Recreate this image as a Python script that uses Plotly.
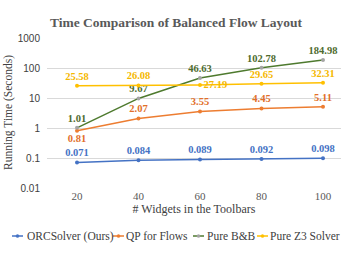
import plotly.graph_objects as go

widgets = ["20", "40", "60", "80", "100"]
orc = [0.071, 0.084, 0.089, 0.092, 0.098]
qp = [0.81, 2.07, 3.55, 4.45, 5.11]
bnb = [1.01, 9.67, 46.63, 102.78, 184.98]
z3 = [25.58, 26.08, 27.19, 29.65, 32.31]

series_names = ["ORCSolver (Ours)", "QP for Flows", "Pure B&B", "Pure Z3 Solver"]
series_values = [orc, qp, bnb, z3]
series_colors = ["#4472C4", "#ED7D31", "#4E7A2E", "#FFC000"]
label_colors = ["#4472C4", "#E2702A", "#4E6B2E", "#F5B800"]
label_fmt = ["{:.3f}", "{:.2f}", "{:.2f}", "{:.2f}"]
positions = [
    ["top center"] * 5,
    ["bottom center", "top center", "top center", "top center", "top center"],
    ["top center"] * 5,
    ["top center", "top center", "middle right", "top center", "top center"],
]
marker_colors = ["#4472C4", "#ED7D31", "#A5A5A5", "#FFC000"]

xs = list(range(len(widgets)))
fig = go.Figure()
for name, vals, col, lc, fmt, pos, mc in zip(series_names, series_values, series_colors,
                                             label_colors, label_fmt, positions, marker_colors):
    fig.add_trace(go.Scatter(
        x=xs, y=vals, name=name, mode="lines+markers+text",
        line=dict(color=col, width=1.5),
        marker=dict(color=mc, size=4),
        text=[fmt.format(v) for v in vals],
        textposition=pos,
        textfont=dict(family="Liberation Serif", size=10.5, color=lc, weight="bold"),
        showlegend=False, cliponaxis=False, hoverinfo="skip",
    ))

W, H = 343, 258
L, R, T, B = 47, 2, 38, 70
pw = W - L - R
ph = H - T - B

def px2paper_x(px):
    return (px - L) / pw

def py2paper_y(py):
    return (H - B - py) / ph

# custom compact legend
leg_y = 236
leg_items = [(12, 25), (113, 124), (193, 205), (257, 268)]
for (lx, tx), name, col, mc in zip(leg_items, series_names, series_colors, marker_colors):
    fig.add_shape(type="line", xref="paper", yref="paper",
                  x0=px2paper_x(lx), x1=px2paper_x(lx + 11),
                  y0=py2paper_y(leg_y), y1=py2paper_y(leg_y),
                  line=dict(color=col, width=1.5))
    fig.add_shape(type="circle", xref="paper", yref="paper",
                  x0=px2paper_x(lx + 4), x1=px2paper_x(lx + 7),
                  y0=py2paper_y(leg_y + 1.5), y1=py2paper_y(leg_y - 1.5),
                  line=dict(color=mc, width=0.5), fillcolor=mc)
    fig.add_annotation(text=name, xref="paper", yref="paper",
                       x=px2paper_x(tx), y=py2paper_y(leg_y), xanchor="left", yanchor="middle",
                       showarrow=False,
                       font=dict(family="Liberation Serif", size=11.5, color="#404040"))

fig.add_annotation(text="Running Time (Seconds)", xref="paper", yref="paper",
                   x=px2paper_x(8), y=0.5, textangle=-90, xanchor="center", yanchor="middle",
                   showarrow=False,
                   font=dict(family="Liberation Serif", size=11.5, color="#404040"))

fig.update_layout(
    width=W, height=H,
    margin=dict(l=L, r=R, t=T, b=B),
    paper_bgcolor="white", plot_bgcolor="white",
    hovermode=False,
    title=dict(text="<b>Time Comparison of Balanced Flow Layout</b>",
               x=px2paper_x(176), xref="paper", xanchor="center",
               y=1 - 22 / H, yanchor="middle",
               font=dict(family="Liberation Serif", size=13.5, color="#595959")),
    xaxis=dict(range=[(L - 77) / 61.5, (W - R - 77) / 61.5],
               tickvals=xs, ticktext=widgets, showgrid=False, zeroline=False,
               showline=False, ticks="",
               tickfont=dict(family="Liberation Serif", size=11, color="#595959"),
               title=dict(text="# Widgets in the Toolbars", standoff=2,
                          font=dict(family="Liberation Serif", size=12, color="#404040"))),
    yaxis=dict(type="log", range=[-2, 3],
               tickvals=[0.01, 0.1, 1, 10, 100, 1000],
               ticktext=["0.01", "0.1", "1", "10", "100", "1000"],
               showgrid=True, gridcolor="#D9D9D9", gridwidth=1, zeroline=False,
               showline=False, ticks="", ticklabelstandoff=6,
               tickfont=dict(family="Liberation Sans", size=10, color="#404040")),
)

fig.write_html("out.html", config={"displayModeBar": False},
               post_script="document.body.style.margin='0';document.body.style.overflow='hidden';")
